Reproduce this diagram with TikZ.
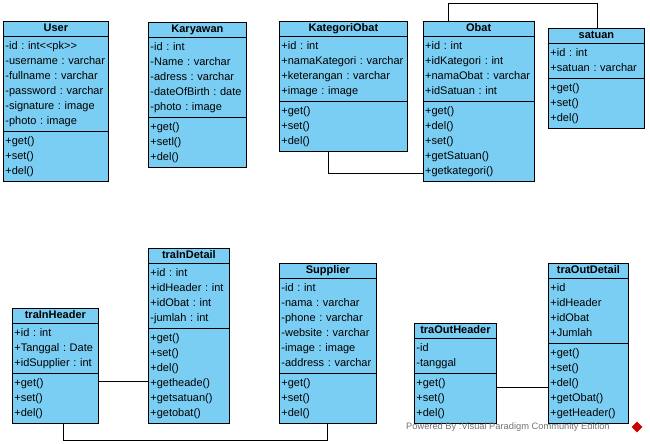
\documentclass[tikz,border=0pt]{standalone}
\usepackage{fontspec}
\setmainfont{Liberation Sans}
\usetikzlibrary{shapes,positioning}
\definecolor{classblue}{RGB}{122,206,243}
\newcommand{\hstrut}{\rule[-2.5pt]{0pt}{10.5pt}}
\newcommand{\classname}[1]{\hbox to \hsize{\hss\hstrut\textbf{#1}\hss}}
\frenchspacing
\hyphenpenalty=10000
\tikzset{
classbox/.style={rectangle split, rectangle split parts=3, draw, fill=classblue, line width=0.8pt, align=left, inner xsep=2pt, inner ysep=2pt, anchor=north west, font=\fontsize{11}{15}\selectfont},
line/.style={draw, line width=0.8pt}
}

\begin{document}
\begin{tikzpicture}[x=1pt, y=1pt]
    \useasboundingbox (0,0) rectangle (650,-444);
    % Place nodes
    \node [classbox, text width=101pt] (user) at (3,-21) {\classname{User}
        \nodepart{second}\strut-id : int<{}<pk>{}>\\\strut-username : varchar\\\strut-fullname : varchar\\\strut-password : varchar\\\strut-signature : image\\\strut-photo : image
        \nodepart{third}\strut+get()\\\strut+set()\\\strut+del()};
    \node [classbox, text width=94pt] (karyawan) at (148,-22) {\classname{Karyawan}
        \nodepart{second}\strut-id : int\\\strut-Name : varchar\\\strut-adress : varchar\\\strut-dateOfBirth : date\\\strut-photo : image
        \nodepart{third}\strut+get()\\\strut+setl()\\\strut+del()};
    \node [classbox, text width=124pt] (kategori) at (279,-21) {\classname{KategoriObat}
        \nodepart{second}\strut+id : int\\\strut+namaKategori : varchar\\\strut+keterangan : varchar\\\strut+image : image
        \nodepart{third}\strut+get()\\\strut+set()\\\strut+del()};
    \node [classbox, text width=107pt, right=15pt of kategori.north east, anchor=north west] (obat) {\classname{Obat}
        \nodepart{second}\strut+id : int\\\strut+idKategori : int\\\strut+namaObat : varchar\\\strut+idSatuan : int
        \nodepart{third}\strut+get()\\\strut+del()\\\strut+set()\\\strut+getSatuan()\\\strut+getkategori()};
    \node [classbox, text width=92pt] (satuan) at (548,-28) {\classname{satuan}
        \nodepart{second}\strut+id : int\\\strut+satuan : varchar
        \nodepart{third}\strut+get()\\\strut+set()\\\strut+del()};
    \node [classbox, text width=82pt] (trainheader) at (12,-308) {\classname{traInHeader}
        \nodepart{second}\strut+id : int\\\strut+Tanggal : Date\\\strut+idSupplier : int
        \nodepart{third}\strut+get()\\\strut+set()\\\strut+del()};
    \node [classbox, text width=77pt] (traindetail) at (148,-248) {\classname{traInDetail}
        \nodepart{second}\strut+id : int\\\strut+idHeader : int\\\strut+idObat : int\\\strut-jumlah : int
        \nodepart{third}\strut+get()\\\strut+set()\\\strut+del()\\\strut+getheade()\\\strut+getsatuan()\\\strut+getobat()};
    \node [classbox, text width=93pt] (supplier) at (279,-263) {\classname{Supplier}
        \nodepart{second}\strut-id : int\\\strut-nama : varchar\\\strut-phone : varchar\\\strut-website : varchar\\\strut-image : image\\\strut-address : varchar
        \nodepart{third}\strut+get()\\\strut+set()\\\strut+del()};
    \node [classbox, text width=78pt] (traoutheader) at (414,-323) {\classname{traOutHeader}
        \nodepart{second}\strut-id\\\strut-tanggal
        \nodepart{third}\strut+get()\\\strut+set()\\\strut+del()};
    \node [classbox, text width=76pt] (traoutdetail) at (548,-263) {\classname{traOutDetail}
        \nodepart{second}\strut+id\\\strut+idHeader\\\strut+idObat\\\strut+Jumlah
        \nodepart{third}\strut+get()\\\strut+set()\\\strut+del()\\\strut+getObat()\\\strut+getHeader()};
    % Draw edges
    \path [line] ([xshift=26pt]obat.north west) -- ++(0,18) -| ([xshift=49pt]satuan.north west);
    \path [line] ([xshift=49pt]kategori.south west) |- ([yshift=8pt]obat.south west);
    \coordinate (inlink) at ([yshift=42pt]trainheader.south east);
    \path [line] (inlink) -- (inlink -| traindetail.west);
    \path [line] ([xshift=51pt]trainheader.south west) -- ++(0,-17) -| ([xshift=48pt]supplier.south west);
    \coordinate (outlink) at ([yshift=36pt]traoutheader.south east);
    \path [line] (outlink) -- (outlink -| traoutdetail.west);
    % Watermark
    \node [anchor=west, text=black!55, font=\fontsize{9.3}{10}\selectfont, inner sep=0pt] (watermark) at (406,-427) {Powered By :Visual Paradigm Community Edition};
    \node [diamond, fill=red!80!black, minimum size=11pt, inner sep=0pt] (vplogo) at (637,-427) {};
\end{tikzpicture}
\end{document}
